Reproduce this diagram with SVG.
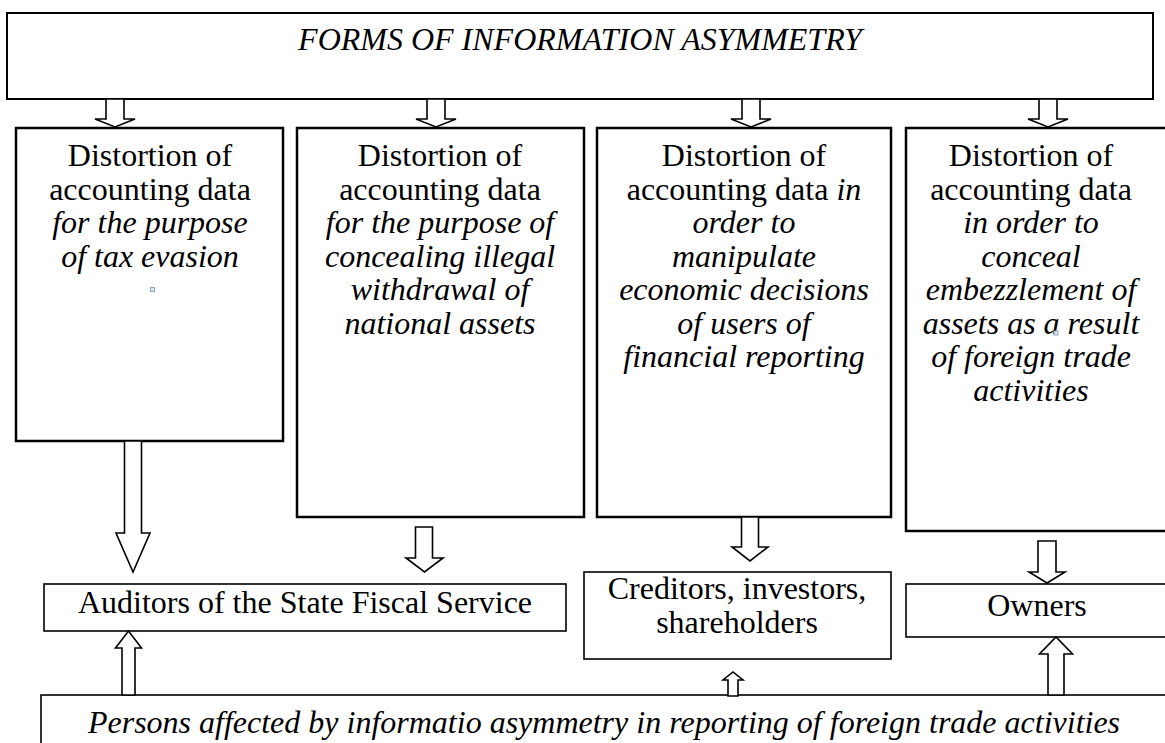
<svg xmlns="http://www.w3.org/2000/svg" width="1165" height="743" viewBox="0 0 1165 743">
<style>
.box{fill:#fff;stroke:#000;stroke-width:2.5}
.sbox{fill:#fff;stroke:#000;stroke-width:1.6}
.arr{fill:#fff;stroke:#000;stroke-width:1.6;stroke-linejoin:miter}
text{font-family:"Liberation Serif","Times New Roman",serif;font-size:32px;fill:#000;text-anchor:middle}
.i{font-style:italic}
.mark{fill:#dbe6f3;stroke:#8fa5c0;stroke-width:1}
</style>
<rect width="1165" height="743" fill="#fff"/>
<g id="top">
<rect class="box" x="7" y="13" width="1146" height="86" style="stroke-width:2"/>
<text class="i" x="580" y="50">FORMS OF INFORMATION ASYMMETRY</text>
</g>
<g id="col1">
<rect class="box" x="16" y="128" width="267" height="313"/>
<text x="150" y="166">Distortion of</text>
<text x="150" y="199.5">accounting data</text>
<text class="i" x="150" y="233">for the purpose</text>
<text class="i" x="150" y="266.5">of tax evasion</text>
<rect class="mark" x="150.5" y="287.5" width="4" height="4"/>
</g>
<g id="col2">
<rect class="box" x="297" y="128" width="287" height="389"/>
<text x="440" y="166">Distortion of</text>
<text x="440" y="199.5">accounting data</text>
<text class="i" x="440" y="233">for the purpose of</text>
<text class="i" x="440" y="266.5">concealing illegal</text>
<text class="i" x="440" y="300">withdrawal of</text>
<text class="i" x="440" y="333.5">national assets</text>
</g>
<g id="col3">
<rect class="box" x="597" y="128" width="294" height="389"/>
<text x="744" y="166">Distortion of</text>
<text x="744" y="199.5">accounting data <tspan class="i">in</tspan></text>
<text class="i" x="744" y="233">order to</text>
<text class="i" x="744" y="266.5">manipulate</text>
<text class="i" x="744" y="300">economic decisions</text>
<text class="i" x="744" y="333.5">of users of</text>
<text class="i" x="744" y="367">financial reporting</text>
</g>
<g id="col4">
<rect class="box" x="906" y="128" width="270" height="403"/>
<text x="1031" y="166">Distortion of</text>
<text x="1031" y="199.5">accounting data</text>
<text class="i" x="1031" y="233">in order to</text>
<text class="i" x="1031" y="266.5">conceal</text>
<text class="i" x="1031" y="300">embezzlement of</text>
<text class="i" x="1031" y="333.5">assets as a result</text>
<rect class="mark" x="1054" y="331" width="4" height="4"/>
<text class="i" x="1031" y="367">of  foreign trade</text>
<text class="i" x="1031" y="400.5">activities</text>
</g>
<g id="auditors">
<rect class="sbox" x="44" y="584" width="522" height="47"/>
<text x="305" y="613">Auditors of the State Fiscal Service</text>
</g>
<g id="creditors">
<rect class="sbox" x="584" y="572" width="307" height="87"/>
<text x="737" y="599">Creditors, investors,</text>
<text x="737" y="633">shareholders</text>
</g>
<g id="owners">
<rect class="sbox" x="906" y="584" width="270" height="53"/>
<text x="1037" y="616">Owners</text>
</g>
<g id="persons">
<rect class="sbox" x="41" y="695" width="1135" height="60"/>
<text class="i" x="604" y="733">Persons affected by informatio asymmetry in reporting of foreign trade activities</text>
</g>
<g id="connectors">
<polygon class="arr" points="106,99 124,99 124,119 135,119 115,127 95,119 106,119"/>
<polygon class="arr" points="427,99 445,99 445,119 456,119 436,127 416,119 427,119"/>
<polygon class="arr" points="742,99 760,99 760,119 771,119 751,127 731,119 742,119"/>
<polygon class="arr" points="1039,99 1057,99 1057,119 1068,119 1048,127 1028,119 1039,119"/>
<polygon class="arr" points="124.5,441 141.5,441 141.5,533 150,533 133,572 116,533 124.5,533"/>
<polygon class="arr" points="415.5,527 432.5,527 432.5,558 443,558 424.5,572 406,558 415.5,558"/>
<polygon class="arr" points="741.5,517 758.5,517 758.5,547 768,547 750,561 732,547 741.5,547"/>
<polygon class="arr" points="1038,541 1056,541 1056,572 1065,572 1047,583 1029,572 1038,572"/>
<polygon class="arr" points="122,695 135,695 135,648 141.5,648 128.5,631 115.5,648 122,648"/>
<polygon class="arr" points="728,696 738,696 738,680 743,680 733,672 723,680 728,680"/>
<polygon class="arr" points="1048,695 1064,695 1064,654 1072.5,654 1056,637 1039.5,654 1048,654"/>
</g>
</svg>
